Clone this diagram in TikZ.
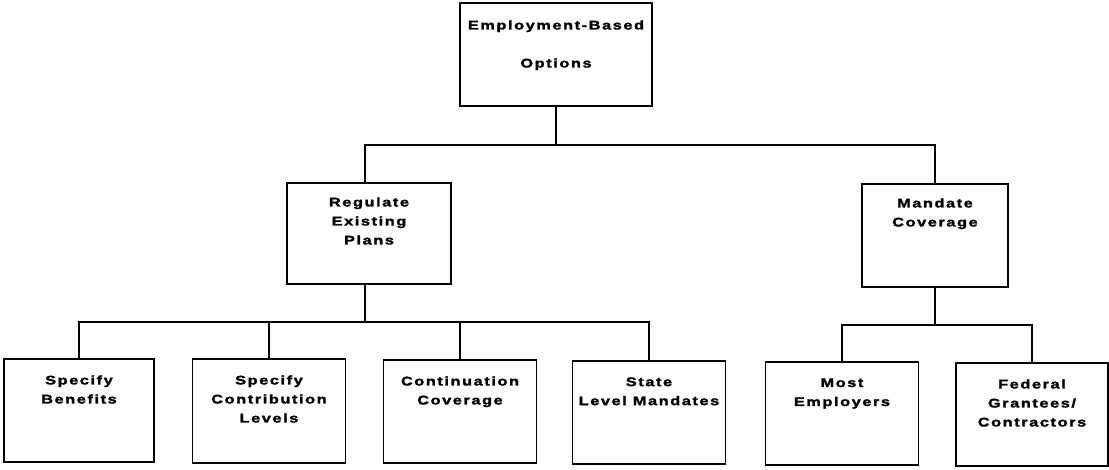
\documentclass[tikz,border=0pt]{standalone}
\usepackage{fontspec}
\newfontfamily\boxfont{Liberation Sans Bold}[FakeStretch=1.3, LetterSpace=13, FakeBold=2]
\begin{document}
\begin{tikzpicture}[x=1pt,y=-1pt,
  box/.style={draw=black, line width=1.6pt, fill=white, inner sep=0pt},
  txt/.style={anchor=north, inner sep=0pt, align=center,
    font=\boxfont\fontsize{12.5}{19}\selectfont},
  wire/.style={draw=black, line width=1.6pt, line cap=rect}]
\useasboundingbox (0,0) rectangle (1109,470);

% top level
\node[box, minimum width=192pt, minimum height=103pt] (emp) at (556,54.5) {};
\node[txt] (empt) at ([yshift=-18pt]emp.north) {Employment-Based\\[19pt]Options};

% second level
\node[box, minimum width=164pt, minimum height=101pt] (reg) at (369,233.5) {};
\node[txt] (regt) at ([yshift=-15pt]reg.north) {Regulate\\Existing\\Plans};
\node[box, minimum width=146pt, minimum height=103pt] (man) at (935,235.5) {};
\node[txt] (mant) at ([yshift=-15pt]man.north) {Mandate\\Coverage};

% third level
\node[box, minimum width=150pt, minimum height=103pt] (b1) at (79,410.5) {};
\node[txt] (b1t) at ([yshift=-17pt]b1.north) {Specify\\Benefits};
\node[box, minimum width=153pt, minimum height=104pt] (b2) at (269,411) {};
\node[txt] (b2t) at ([yshift=-17pt]b2.north) {Specify\\Contribution\\Levels};
\node[box, minimum width=153pt, minimum height=103pt] (b3) at (460,411.5) {};
\node[txt] (b3t) at ([yshift=-17pt]b3.north) {Continuation\\Coverage};
\node[box, minimum width=153pt, minimum height=103pt] (b4) at (649,412.5) {};
\node[txt] (b4t) at ([yshift=-17pt]b4.north) {State\\Level Mandates};
\node[box, minimum width=153pt, minimum height=103pt] (b5) at (842,413.5) {};
\node[txt] (b5t) at ([yshift=-17pt]b5.north) {Most\\Employers};
\node[box, minimum width=152pt, minimum height=103pt] (b6) at (1032,414.5) {};
\node[txt] (b6t) at ([yshift=-17pt]b6.north) {Federal\\Grantees/\\Contractors};

% bus rows
\coordinate (busA) at (0,145);
\coordinate (busB) at (0,322);
\coordinate (busC) at (0,325);
\coordinate (regtop) at ([xshift=-4pt]reg.north);
\coordinate (regbot) at ([xshift=-4pt]reg.south);

% connectors
\draw[wire] (emp.south) -- (emp.south |- busA);
\draw[wire] (regtop) -- (regtop |- busA) -- (man.north |- busA) -- (man.north);

\draw[wire] (regbot) -- (regbot |- busB);
\draw[wire] (b1.north) -- (b1.north |- busB) -- (b4.north |- busB) -- (b4.north);
\draw[wire] (b2.north) -- (b2.north |- busB);
\draw[wire] (b3.north) -- (b3.north |- busB);

\draw[wire] (man.south) -- (man.south |- busC);
\draw[wire] (b5.north) -- (b5.north |- busC) -- (b6.north |- busC) -- (b6.north);
\end{tikzpicture}
\end{document}
